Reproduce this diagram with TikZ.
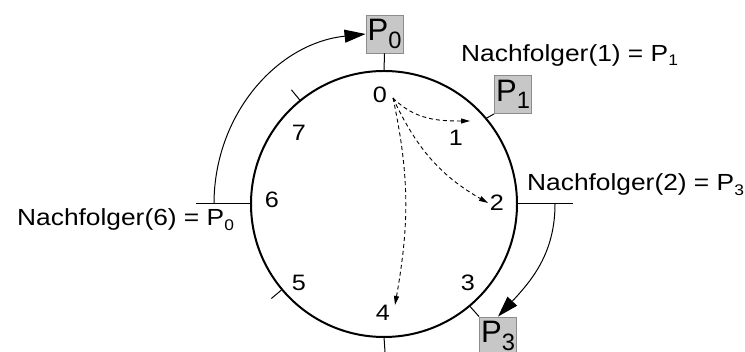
\documentclass[tikz,border=0pt]{standalone}
\usepackage{fontspec}
\setmainfont{Liberation Sans}[FakeStretch=1.13]
\newfontfamily\boxfont{Liberation Sans}
\usepackage{xcolor}
\usepackage{tikz}
\usetikzlibrary{arrows.meta,calc,positioning}
\colorlet{colorBox}{black!22}
\colorlet{colorBoxLine}{black!45}
\tikzset{
   every path/.style={>=stealth},
   ring/.style={circle,draw,line width=2pt,minimum size=266pt,inner sep=0pt,outer sep=0pt},
   pbox/.style={rectangle,draw=colorBoxLine,fill=colorBox,line width=0.9pt,minimum width=37pt,minimum height=38pt,inner sep=0pt,font=\boxfont\fontsize{31}{31}\selectfont},
   nr/.style={inner sep=0pt,font=\fontsize{22.3}{22.3}\selectfont},
   lbl/.style={anchor=base west,inner sep=0pt,font=\fontsize{23.3}{23.3}\selectfont},
   tick/.style={draw,line width=1pt},
   succ/.style={-{Triangle[length=21pt,width=13pt]},line width=1pt},
   lookup/.style={-{Triangle[length=9pt,width=5pt]},line width=0.9pt,dash pattern=on 4pt off 3pt},
}
\newcommand{\Pbox}[1]{P\raisebox{-7.4pt}{\fontsize{23.7}{23.7}\selectfont #1}}
\newcommand{\Psub}[1]{P\raisebox{-4.3pt}{\fontsize{15.4}{15.4}\selectfont #1}}

\begin{document}
\begin{tikzpicture}[x=1pt,y=1pt]
\useasboundingbox (0,0) rectangle (745,352);
\node[ring] (ring) at (384,148) {};

% positions on the ring
\node[nr] (n0) at (380,257) {0};
\node[nr] (n1) at (456,214) {1};
\node[nr] (n2) at (497,149) {2};
\node[nr] (n3) at (468,69) {3};
\node[nr] (n4) at (383,39) {4};
\node[nr] (n5) at (299,69) {5};
\node[nr] (n6) at (272,152) {6};
\node[nr] (n7) at (299,219) {7};

% processes
\node[pbox] (p0) at (384.5,318) {\Pbox{0}};
\node[pbox] (p1) at (513,257.5) {\Pbox{1}};
\node[pbox] (p3) at (498,16) {\Pbox{3}};
\draw[tick] (p0.south) -- (ring.90);
\draw[tick] (p1.south west) -- (ring.40);
\draw[tick] (p3.north west) -- (ring.-50);

% free ticks
\coordinate (t4) at (385,0);
\coordinate (t5) at ($(ring.220)+(220:14)$);
\coordinate (t6) at (196,148);
\coordinate (t7) at ($(ring.129.5)+(129.5:14)$);
\coordinate (t2) at (573,148);
\draw[tick] (ring.-90) -- (t4);
\draw[tick] (ring.220) -- (t5);
\draw[tick] (ring.180) -- (t6);
\draw[tick] (ring.129.5) -- (t7);
\draw[tick] (ring.0) -- (t2);

% successors
\coordinate (a6) at (214,148);
\coordinate (a2) at (555,148);
\draw[succ] (a6) to[out=90,in=186] (p0.west);
\draw[succ] (a2) to[out=-90,in=47] (p3.north);

% lookups from 0
\coordinate (s0) at (393,254);
\coordinate (e1) at (470,231);
\coordinate (e2) at (488,149);
\coordinate (e4) at (395,47);
\draw[lookup] (s0) to[out=-45,in=180] (e1);
\draw[lookup] (s0) to[out=-65,in=150] (e2);
\draw[lookup] (s0) to[out=-78,in=80] (e4);

\node[lbl] (nf1) at (461,290.3) {Nachfolger(1) = \Psub{1}};
\node[lbl] (nf2) at (527,161) {Nachfolger(2) = \Psub{3}};
\node[lbl] (nf6) at (17,126) {Nachfolger(6) = \Psub{0}};
\end{tikzpicture}
\end{document}
